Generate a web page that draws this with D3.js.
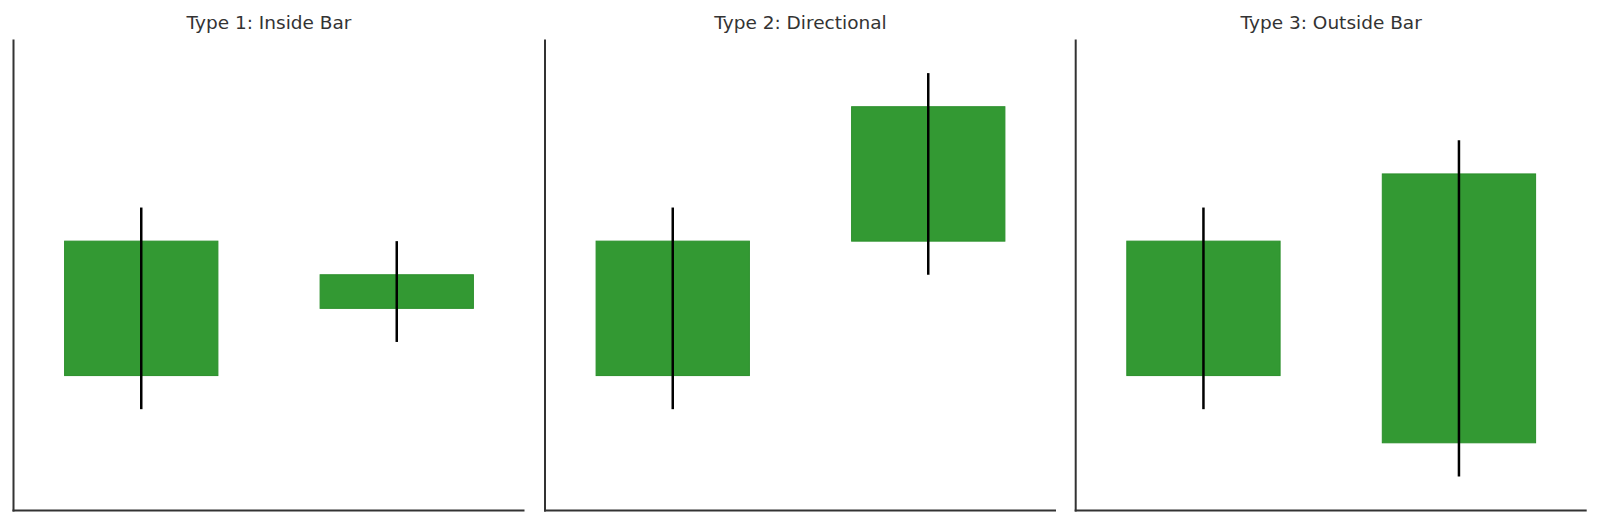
<!DOCTYPE html>
<html>
<head>
<meta charset="utf-8">
<script src="https://cdn.jsdelivr.net/npm/d3@7"></script>
<style>
  html, body { margin: 0; padding: 0; background: #ffffff; }
  svg { display: block; }
</style>
</head>
<body>
<svg id="chart" width="1600" height="524"></svg>
<script>
// ---- data ----
const panelTitles = ["Type 1: Inside Bar", "Type 2: Directional", "Type 3: Outside Bar"];
const candleIndex = [0, 1];
// per panel: [first candle, second candle]
const opens  = [[98, 100], [98, 102], [98, 96]];
const closes = [[102, 101], [102, 106], [102, 104]];
const lows   = [[97, 99], [97, 101], [97, 95]];
const highs  = [[103, 102], [103, 107], [103, 105]];
const yDomain = [94, 108];
const xDomain = [-0.5, 1.5];
const bodyWidth = 0.6;

// ---- layout ----
const svg = d3.select("#chart");
const panelLefts = [13.5, 545, 1075.7];
const panelWidth = 511;
const plotTop = 39.5, plotBottom = 510.5;
const axisColor = "#333333";

const y = d3.scaleLinear().domain(yDomain).range([plotBottom - 0.5, plotTop]);

panelTitles.forEach((title, p) => {
  const left = panelLefts[p];
  const x = d3.scaleLinear().domain(xDomain).range([left, left + panelWidth]);
  const g = svg.append("g");

  const candles = candleIndex.map(i => ({
    i, open: opens[p][i], close: closes[p][i], low: lows[p][i], high: highs[p][i]
  }));

  // bodies
  g.selectAll("rect.body").data(candles).enter().append("rect")
    .attr("class", "body")
    .attr("x", d => x(d.i - bodyWidth / 2))
    .attr("width", d => x(d.i + bodyWidth / 2) - x(d.i - bodyWidth / 2))
    .attr("y", d => y(Math.max(d.open, d.close)))
    .attr("height", d => y(Math.min(d.open, d.close)) - y(Math.max(d.open, d.close)))
    .attr("fill", "#339933")
    .attr("stroke", "#2b8f2b")
    .attr("stroke-width", 1);

  // wicks
  g.selectAll("line.wick").data(candles).enter().append("line")
    .attr("class", "wick")
    .attr("x1", d => x(d.i)).attr("x2", d => x(d.i))
    .attr("y1", d => y(d.high)).attr("y2", d => y(d.low))
    .attr("stroke", "#000000")
    .attr("stroke-width", 2.5);

  // axes (spines only, no ticks)
  const xAxis = d3.axisBottom(x).tickValues([]).tickSizeOuter(0);
  const yAxis = d3.axisLeft(y).tickValues([]).tickSizeOuter(0);
  g.append("g").attr("transform", `translate(0,${plotBottom})`).call(xAxis)
    .call(s => s.select(".domain").attr("stroke", axisColor).attr("stroke-width", 2)
      .attr("d", `M${left - 1},0H${left + panelWidth}`));
  g.append("g").attr("transform", `translate(${left},0)`).call(yAxis)
    .call(s => s.select(".domain").attr("stroke", axisColor).attr("stroke-width", 2)
      .attr("d", `M0,${plotTop}V${plotBottom + 1}`));

  // title
  g.append("text")
    .attr("x", left + panelWidth / 2)
    .attr("y", 28.5)
    .attr("text-anchor", "middle")
    .attr("font-family", "DejaVu Sans, sans-serif")
    .attr("font-size", "18.5px")
    .attr("fill", "#333333")
    .text(title);
});
</script>
</body>
</html>
